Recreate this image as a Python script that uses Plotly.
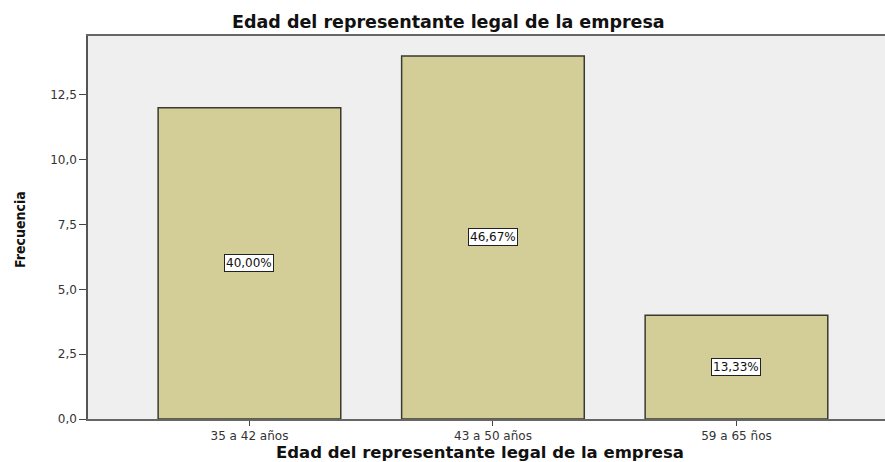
import plotly.graph_objects as go

categories = ["35 a 42 años", "43 a 50 años", "59 a 65 ños"]
frecuencia = [12, 14, 4]
porcentajes = ["40,00%", "46,67%", "13,33%"]
y_ticks = [0, 2.5, 5, 7.5, 10, 12.5]

W, H = 885, 462
ML, MT, MB = 88, 36, 43
PW, PH = W - ML, H - MT - MB


def px_x(px):
    return (px - ML) / PW


def px_y(py):
    return (H - MB - py) / PH


fig = go.Figure()
fig.add_trace(go.Bar(
    x=list(range(len(categories))), y=frecuencia, width=0.75,
    marker=dict(color="#D3CE97", line=dict(color="#3a3a30", width=1.5)),
    hoverinfo="skip",
))

for i, (v, p) in enumerate(zip(frecuencia, porcentajes)):
    fig.add_annotation(x=i, y=v / 2, xref="x", yref="y", text=p, showarrow=False,
                       bgcolor="white", bordercolor="#222", borderwidth=1, borderpad=1,
                       font=dict(family="DejaVu Sans", size=12, color="#111"))

# chart title
fig.add_annotation(x=px_x(448), y=px_y(22), xref="paper", yref="paper",
                   text="<b>Edad del representante legal de la empresa</b>", showarrow=False,
                   xanchor="center", yanchor="middle",
                   font=dict(family="DejaVu Sans", size=17.5, color="#111"))
# x-axis title
fig.add_annotation(x=px_x(480), y=px_y(452), xref="paper", yref="paper",
                   text="<b>Edad del representante legal de la empresa</b>", showarrow=False,
                   xanchor="center", yanchor="middle",
                   font=dict(family="DejaVu Sans", size=16.5, color="#111"))
# y-axis title
fig.add_annotation(x=px_x(20), y=px_y(230), xref="paper", yref="paper",
                   text="<b>Frecuencia</b>", showarrow=False, textangle=-90,
                   xanchor="center", yanchor="middle",
                   font=dict(family="DejaVu Sans Condensed", size=14, color="#111"))

fig.update_layout(
    width=W, height=H,
    margin=dict(l=ML, r=0, t=MT, b=MB),
    paper_bgcolor="white", plot_bgcolor="#EFEFEF",
    separators=",.",
    showlegend=False,
    font=dict(family="DejaVu Sans", size=12, color="#333"),
)

fig.update_xaxes(
    range=[-0.663, 2.61], tickvals=list(range(len(categories))), ticktext=categories,
    showline=True, linecolor="#666", linewidth=1.5, mirror=True,
    ticks="outside", ticklen=5, tickcolor="#444", showgrid=False, zeroline=False,
    tickfont=dict(family="DejaVu Sans", size=12, color="#333"),
    automargin=False,
)
fig.update_yaxes(
    range=[0, 14.77], tickvals=y_ticks, tickformat=".1f",
    showline=True, linecolor="#555", linewidth=1.5, mirror=False,
    ticks="outside", ticklen=7, tickcolor="#444", showgrid=False, zeroline=False,
    tickfont=dict(family="DejaVu Sans", size=12, color="#333"),
    automargin=False,
)

fig.write_html("out.html", config={"displayModeBar": False},
               post_script="document.body.style.margin='0';")
